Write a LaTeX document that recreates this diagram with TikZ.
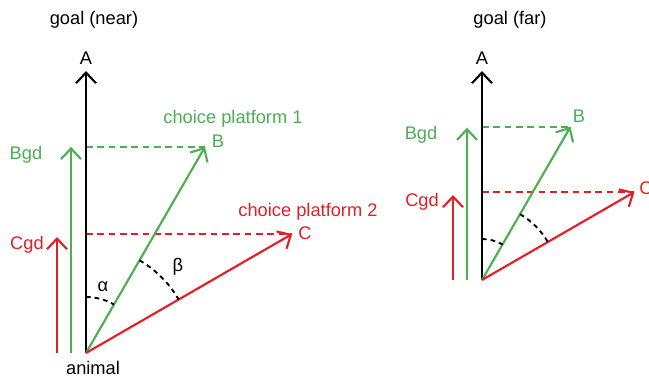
\documentclass[tikz,border=0pt]{standalone}
\usepackage{fontspec}
\setmainfont{Liberation Sans}
\usetikzlibrary{arrows.meta,positioning,calc}
\definecolor{vecgreen}{RGB}{76,175,80}
\definecolor{vecred}{RGB}{228,30,36}

\begin{document}
\begin{tikzpicture}[
    x=0.75pt, y=0.75pt,
    vec/.style={line width=1.6pt, -{Straight Barb[length=8pt, width=15pt]}},
    guide/.style={line width=1.4pt, dash pattern=on 5pt off 3.5pt},
    anglearc/.style={black, line width=1.4pt, dash pattern=on 3.5pt off 3pt},
    label/.style={font=\fontsize{13.7}{16}\selectfont, inner sep=0pt}
]
\useasboundingbox (0,0) rectangle (649,380);

% Left panel: goal near
\coordinate (o1) at (86,27);
\coordinate (a1) at (86,309);
\coordinate (b1) at ($(o1)+(60:238)$);
\coordinate (c1) at ($(o1)+(30:238)$);
\coordinate (bgd1s) at ($(o1)+(-15,0)$);
\coordinate (bgd1) at ($(o1 |- b1)+(-15,0)$);
\coordinate (cgd1s) at ($(o1)+(-29,0)$);
\coordinate (cgd1) at ($(o1 |- c1)+(-29,-3)$);

\node[label] (title1) at (94,360) {goal (near)};
\node[label] (animal) at (93,12) {animal};
\node[label] (lA1) at (86,322) {A};
\node[label, text=vecgreen] (lB1) at (218,239) {B};
\node[label, text=vecred] (lC1) at (305,147) {C};
\node[label, text=vecgreen] (plat1) at (233,261) {choice platform 1};
\node[label, text=vecred] (plat2) at (308,168) {choice platform 2};
\node[label, text=vecgreen] (lBgd1) at (26,225) {Bgd};
\node[label, text=vecred] (lCgd1) at (27,135) {Cgd};
\node[label] (alpha) at (103,93) {α};
\node[label] (beta) at (178,113) {β};

% projections
\draw[guide, vecgreen] (o1 |- b1) -- (b1);
\draw[guide, vecred] (o1 |- c1) -- (c1);

% vectors
\draw[vec, black] (o1) -- (a1);
\draw[vec, vecgreen] (o1) -- (b1);
\draw[vec, vecred] (o1) -- (c1);
\draw[vec, vecgreen] (bgd1s) -- (bgd1);
\draw[vec, vecred] (cgd1s) -- (cgd1);

% angles
\draw[anglearc] ($(o1)+(90:56)$) arc[start angle=90, end angle=60, radius=42pt];
\draw[anglearc] ($(o1)+(60:107)$) arc[start angle=60, end angle=30, radius=80.25pt];

% Right panel: goal far
\coordinate (o2) at (482,100);
\coordinate (a2) at (482,309);
\coordinate (b2) at ($(o2)+(60:177)$);
\coordinate (c2) at ($(o2)+(30:176)$);
\coordinate (bgd2s) at ($(o2)+(-15,0)$);
\coordinate (bgd2) at ($(o2 |- b2)+(-15,-1)$);
\coordinate (cgd2s) at ($(o2)+(-29,0)$);
\coordinate (cgd2) at ($(o2 |- c2)+(-29,-3)$);

\node[label] (title2) at (510,360) {goal (far)};
\node[label] (lA2) at (482,322) {A};
\node[label, text=vecgreen] (lB2) at (579,264) {B};
\node[label, text=vecred] (lC2) at (646,192) {C};
\node[label, text=vecgreen] (lBgd2) at (421,245) {Bgd};
\node[label, text=vecred] (lCgd2) at (422,178) {Cgd};

% projections
\draw[guide, vecgreen] (o2 |- b2) -- (b2);
\draw[guide, vecred] (o2 |- c2) -- (c2);

% vectors
\draw[vec, black] (o2) -- (a2);
\draw[vec, vecgreen] (o2) -- (b2);
\draw[vec, vecred] (o2) -- (c2);
\draw[vec, vecgreen] (bgd2s) -- (bgd2);
\draw[vec, vecred] (cgd2s) -- (cgd2);

% angles
\draw[anglearc] ($(o2)+(90:41)$) arc[start angle=90, end angle=60, radius=30.75pt];
\draw[anglearc] ($(o2)+(60:76)$) arc[start angle=60, end angle=30, radius=57pt];

\end{tikzpicture}
\end{document}
